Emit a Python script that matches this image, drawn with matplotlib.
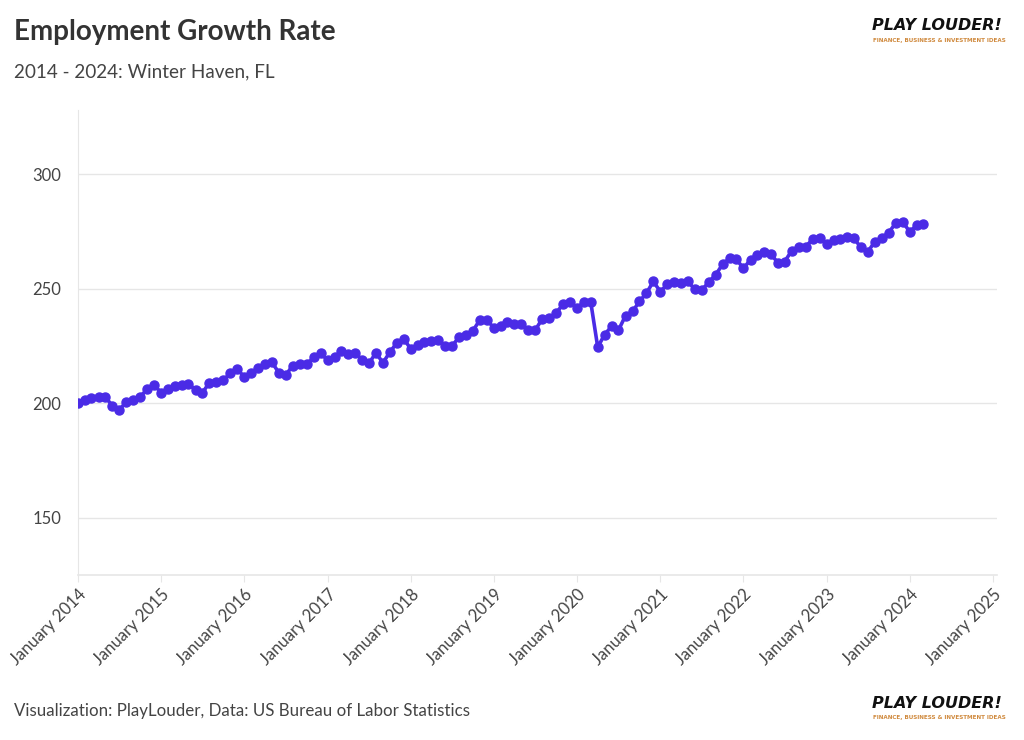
import datetime as dt
import matplotlib
matplotlib.use("Agg")
import matplotlib.pyplot as plt
import matplotlib.dates as mdates

# monthly values, January 2014 .. March 2024
start_year = 2014
employment = [
    200.0, 201.3, 202.5, 202.9, 202.8, 198.8, 197.1, 200.6, 201.3, 202.9, 206.1, 208.0,
    204.6, 206.1, 207.5, 208.0, 208.6, 205.7, 204.6, 209.0, 209.4, 210.0, 213.3, 215.1,
    211.4, 213.3, 215.5, 217.0, 218.0, 213.3, 212.3, 216.5, 217.0, 217.0, 220.1, 222.0,
    218.7, 220.1, 222.7, 221.6, 222.0, 219.1, 217.4, 222.0, 217.7, 222.3, 226.4, 228.1,
    223.8, 225.5, 226.7, 227.4, 227.8, 224.9, 224.9, 229.0, 230.0, 231.7, 236.5, 236.5,
    232.9, 233.9, 235.3, 234.6, 234.6, 232.2, 231.9, 236.8, 237.3, 239.4, 243.3, 244.3,
    241.6, 244.3, 244.4, 224.5, 230.0, 233.6, 231.9, 238.3, 240.1, 244.5, 248.1, 253.2,
    248.8, 252.0, 252.9, 252.5, 253.2, 249.9, 249.3, 252.9, 256.1, 260.7, 263.3, 262.9,
    258.9, 262.8, 264.6, 266.2, 265.2, 261.4, 261.9, 266.7, 268.4, 268.4, 271.7, 272.3,
    269.6, 271.3, 271.6, 272.7, 272.0, 268.1, 266.2, 270.6, 272.3, 274.6, 278.8, 279.3,
    274.9, 277.8, 278.3,
]
months = [dt.date(start_year + i // 12, i % 12 + 1, 1) for i in range(len(employment))]
tick_years = list(range(2014, 2026))

title = "Employment Growth Rate"
subtitle = "2014 - 2024: Winter Haven, FL"
source = "Visualization: PlayLouder, Data: US Bureau of Labor Statistics"

plt.rcParams["font.family"] = ["Lato", "DejaVu Sans"]

fig = plt.figure(figsize=(10.24, 7.4), dpi=100)
ax = fig.add_axes([0.0762, 0.223, 0.8974, 0.628])

ax.plot(months, employment, color="#4a2be6", linewidth=2.6, marker="o",
        markersize=6.5, zorder=3)

ax.set_ylim(125, 328)
ax.set_yticks([150, 200, 250, 300])
ax.set_xlim(dt.date(2014, 1, 1), dt.date(2025, 1, 18))
ax.set_xticks([dt.date(y, 1, 1) for y in tick_years])
ax.xaxis.set_major_formatter(mdates.DateFormatter("%B %Y"))

ax.grid(axis="y", color="#e6e6e6", linewidth=1)
ax.set_axisbelow(True)
for side in ["top", "right"]:
    ax.spines[side].set_visible(False)
ax.spines["left"].set_color("#e6e6e6")
ax.spines["bottom"].set_color("#e6e6e6")
ax.spines["bottom"].set_linewidth(1.2)

ax.tick_params(axis="y", length=0, pad=12, labelsize=12, labelcolor="#444444")
ax.tick_params(axis="x", length=5, color="#e6e6e6", pad=3, labelsize=12,
               labelcolor="#444444")
for lbl in ax.get_xticklabels():
    lbl.set_rotation(45)
    lbl.set_ha("right")
    lbl.set_rotation_mode("anchor")

fig.text(0.0137, 0.957, title, fontsize=20, fontweight="bold", color="#333333",
         va="center")
fig.text(0.0137, 0.903, subtitle, fontsize=13.6, color="#444444", va="center")
fig.text(0.0137, 0.039, source, fontsize=12.2, color="#444444", va="center")

# logo, top and bottom right
for ytop in [0.965, 0.050]:
    fig.text(0.852, ytop, "PLAY LOUDER!", fontsize=11.5, fontweight="heavy",
             style="italic", family="DejaVu Sans", color="#111111", va="center")
    fig.text(0.853, ytop - 0.020, "FINANCE, BUSINESS & INVESTMENT IDEAS",
             fontsize=4.1, fontweight="bold", family="DejaVu Sans",
             color="#d08a3e", va="center")

fig.savefig("out.png", dpi=100, facecolor="white")
